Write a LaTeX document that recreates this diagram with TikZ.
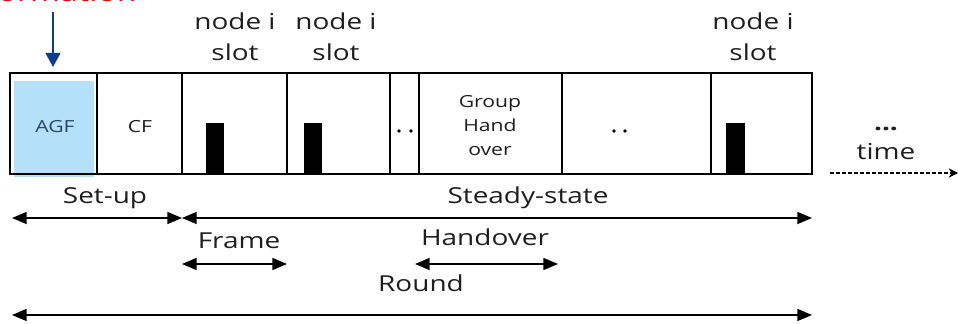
\documentclass[tikz,border=0pt]{standalone}
\usepackage{fontspec}
\setmainfont{Open Sans}
\usetikzlibrary{arrows.meta}
\definecolor{agfblue}{RGB}{180,224,250}
\definecolor{agftext}{RGB}{45,70,95}
\definecolor{navy}{RGB}{16,58,140}
\definecolor{alarmred}{RGB}{225,10,10}
\definecolor{ink}{RGB}{30,30,30}

\begin{document}
\begin{tikzpicture}[x=0.75pt,y=-0.75pt]
\tikzstyle{frame line}=[line width=2.2pt,draw=black]
\tikzstyle{big label}=[text=ink,inner sep=0,align=center,xscale=1.27,transform shape,
                       font=\fontsize{16.5}{23}\selectfont]
\tikzstyle{box label}=[text=ink,inner sep=0,align=center,xscale=1.27,transform shape,
                       font=\fontsize{12.5}{18}\selectfont]
\tikzstyle{span}=[line width=1.1pt,{Triangle[length=11pt,width=9pt]}-{Triangle[length=11pt,width=9pt]}]

\useasboundingbox (0,0) rectangle (958,324);

% frame strip
\fill[agfblue] (14,81) rectangle (94,177);
\draw[frame line] (10,73) rectangle (812,174);
\draw[frame line] (97,73) -- (97,174);
\draw[frame line] (182,73) -- (182,174);
\draw[frame line] (287,73) -- (287,174);
\draw[frame line] (390,73) -- (390,174);
\draw[frame line] (419,73) -- (419,174);
\draw[frame line] (562,73) -- (562,174);
\draw[frame line] (711,73) -- (711,174);

% transmissions of node i
\fill (206,123) rectangle (224,174);
\fill (304,123) rectangle (322,174);
\fill (726,123) rectangle (745,174);
\fill (399,131) circle (1.9);
\fill (411,131) circle (1.9);
\fill (614,131) circle (1.9);
\fill (625,131) circle (1.9);

\node(agf)[box label,text=agftext] at (55,127) {AGF};
\node(cf)[box label] at (140,127) {CF};
\node(gho)[box label] at (490,126) {Group\\Hand\\over};

\node(slotA)[big label,anchor=north] at (235,13) {node i\\slot};
\node(slotB)[big label,anchor=north] at (336,13) {node i\\slot};
\node(slotC)[big label,anchor=north] at (753,13) {node i\\slot};

% group formation trigger
\node(formation)[big label,text=alarmred,anchor=base east,font=\fontsize{19}{23}\selectfont] at (137,2) {formation};
\coordinate (trigtop) at (53,12);
\coordinate (trigend) at (53,67);
\draw[navy,line width=1.6pt,-{Triangle[length=10.5pt,width=11pt]}] (trigtop) -- (trigend);

% time goes on
\node(more)[big label,anchor=base,font=\bfseries\fontsize{16.5}{23}\selectfont] at (886,131) {...};
\node(time)[big label,anchor=base] at (886,160) {time};
\coordinate (tstart) at (830,173);
\coordinate (tend) at (958,173);
\draw[line width=0.8pt,dash pattern=on 3pt off 1.5pt,-{Stealth[length=7pt,width=7pt]}] (tstart) -- (tend);

% phases
\coordinate (p0) at (12,218);
\coordinate (p1) at (182,218);
\coordinate (p2) at (812,218);
\draw[span] (p0) -- (p1);
\draw[span] (p1) -- (p2);
\node(setup)[big label,anchor=base] at (105,204) {Set-up};
\node(steady)[big label,anchor=base] at (528,204) {Steady-state};

\coordinate (f0) at (182,264);
\coordinate (f1) at (287,264);
\draw[span] (f0) -- (f1);
\node(frame)[big label,anchor=base] at (239,249) {Frame};

\coordinate (h0) at (415,264);
\coordinate (h1) at (558,264);
\draw[span] (h0) -- (h1);
\node(hand)[big label,anchor=base] at (485,246) {Handover};

\coordinate (r0) at (12,315);
\coordinate (r1) at (812,315);
\draw[span] (r0) -- (r1);
\node(round)[big label,anchor=base] at (421,292) {Round};

\end{tikzpicture}
\end{document}
